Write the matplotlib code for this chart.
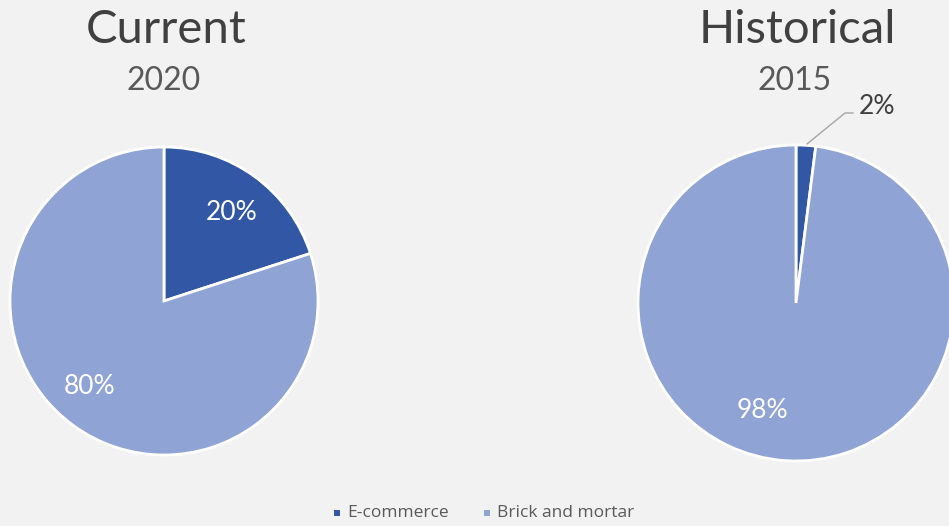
import matplotlib.pyplot as plt
from matplotlib.patches import Rectangle

# Market share of retail channels
categories = ["E-commerce", "Brick and mortar"]
share_2020 = [20, 80]
share_2015 = [2, 98]
labels_2020 = ["20%", "80%"]
labels_2015 = ["2%", "98%"]

W, H = 949, 526
bg = "#f2f2f2"
dark = "#3157a5"
light = "#8fa3d5"

fig = plt.figure(figsize=(W / 100, H / 100), dpi=100, facecolor=bg)
ax = fig.add_axes([0, 0, 1, 1])

font = "Lato"

def y(px):
    return H - px

wedge_kw = dict(edgecolor="white", linewidth=2)

ax.pie(share_2020, colors=[dark, light], startangle=90, counterclock=False,
       center=(164, y(301)), radius=154, wedgeprops=wedge_kw, frame=True)
ax.pie(share_2015, colors=[dark, light], startangle=90, counterclock=False,
       center=(796, y(303)), radius=158, wedgeprops=wedge_kw, frame=True)
ax.set_xlim(0, W)
ax.set_ylim(0, H)
ax.set_aspect("equal")
ax.axis("off")

# Slice labels
ax.text(232, y(212), labels_2020[0], color="white", fontsize=19, ha="center", va="center", family=font)
ax.text(90, y(386), labels_2020[1], color="white", fontsize=19, ha="center", va="center", family=font)
ax.text(762, y(410), labels_2015[1], color="white", fontsize=19, ha="center", va="center", family=font)
ax.text(877, y(106), labels_2015[0], color="#404040", fontsize=19, ha="center", va="center", family=font)
ax.plot([807, 845, 853], [y(144), y(113), y(113)], color="#a6a6a6", linewidth=1)

# Titles
ax.text(166, y(30), "Current", color="#404040", fontsize=34, ha="center", va="center", family=font)
ax.text(164, y(81), "2020", color="#595959", fontsize=23, ha="center", va="center", family=font)
ax.text(797, y(30), "Historical", color="#404040", fontsize=34, ha="center", va="center", family=font)
ax.text(795, y(81), "2015", color="#595959", fontsize=23, ha="center", va="center", family=font)

# Legend
legend_items = [(334, categories[0], dark), (484, categories[1], light)]
for x0, name, c in legend_items:
    ax.add_patch(Rectangle((x0, y(516)), 6, 6, facecolor=c, edgecolor="none"))
    ax.text(x0 + 13, y(513), name, color="#595959", fontsize=12.5, ha="left", va="center", family="Open Sans")

fig.savefig("out.png", dpi=100, facecolor=bg)
